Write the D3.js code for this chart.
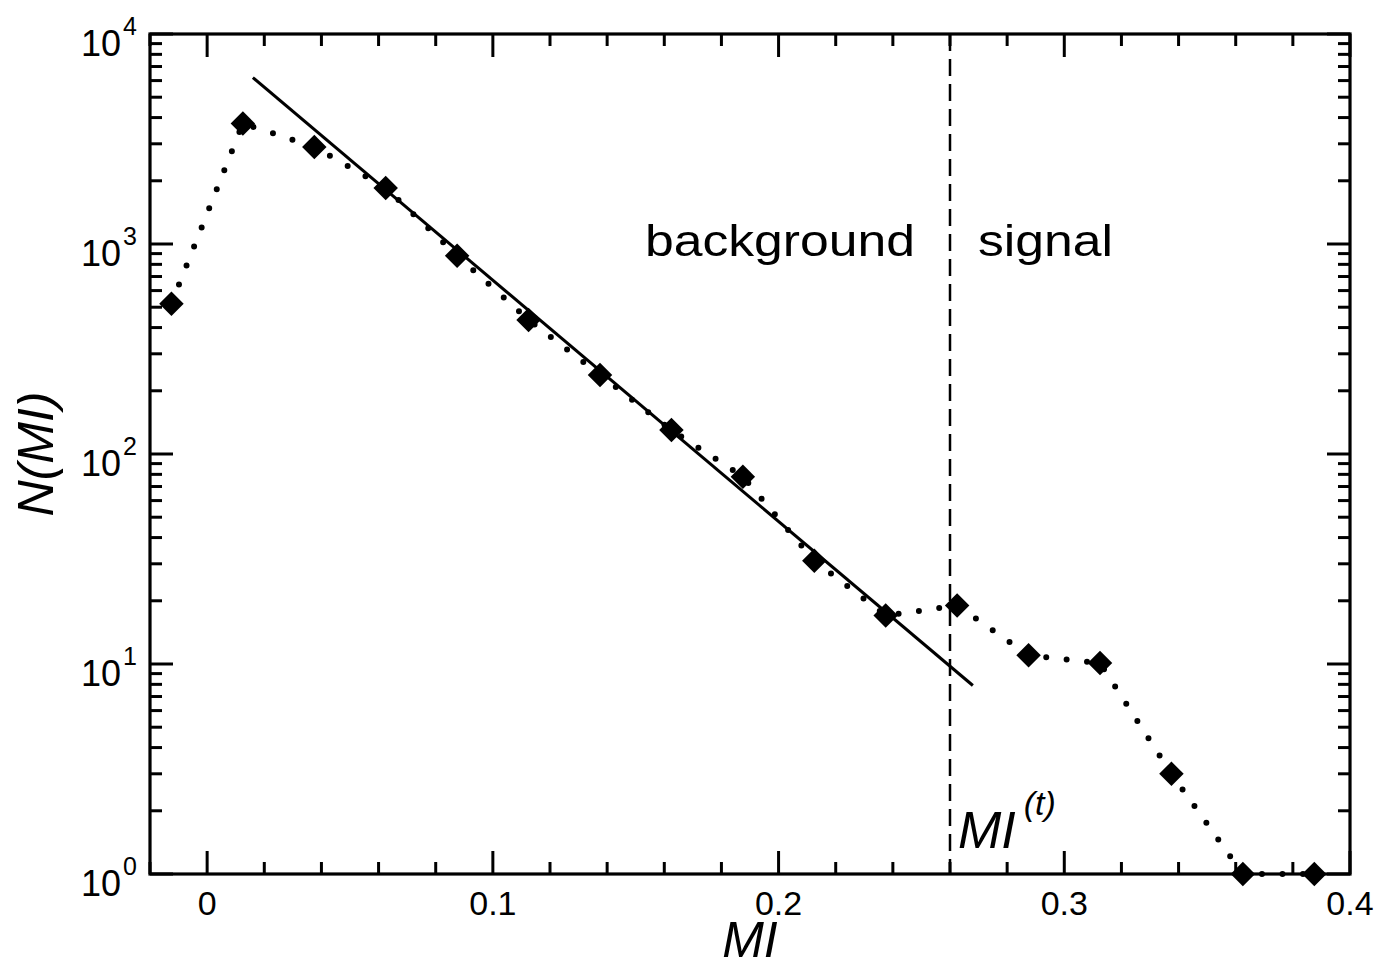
<!DOCTYPE html>
<html>
<head>
<meta charset="utf-8">
<script src="https://cdn.jsdelivr.net/npm/d3@7"></script>
<style>
  body { margin: 0; background: #fff; }
  svg { display: block; }
  text { font-family: "Liberation Sans", Arial, Helvetica, sans-serif; fill: #000; }
</style>
</head>
<body>
<svg id="chart" width="1397" height="969"></svg>
<script>
// ---- data ----
const binCenters = [-0.0125, 0.0125, 0.0375, 0.0625, 0.0875, 0.1125, 0.1375, 0.1625, 0.1875,
                    0.2125, 0.2375, 0.2625, 0.2875, 0.3125, 0.3375, 0.3625, 0.3875];
const counts     = [520, 3750, 2900, 1850, 880, 435, 238, 130, 78,
                    31, 17, 19, 11, 10.1, 3.0, 1, 1];
const fitX = [0.016, 0.268];
const fitY = [6200, 7.9];
const threshold = 0.26;
const xTickValues = [0, 0.1, 0.2, 0.3, 0.4];
const xTickLabels = ["0", "0.1", "0.2", "0.3", "0.4"];
const yTickExponents = [0, 1, 2, 3, 4];
const regionLabels = ["background", "signal"];

// ---- layout ----
const svg = d3.select("#chart");
const L = 150, R = 1350, T = 34, B = 874;
const x = d3.scaleLinear().domain([-0.02, 0.4]).range([L, R]);
const y = d3.scaleLog().domain([1, 10000]).range([B, T]);

const g = svg.append("g");

// minor/major ticks
const xMinor = d3.range(-0.02, 0.4001, 0.02).map(v => +v.toFixed(3)).filter(v => !xTickValues.some(t => Math.abs(t - v) < 1e-6));
const yMinor = [];
for (let e = 0; e < 4; e++) for (let m = 2; m <= 9; m++) yMinor.push(m * Math.pow(10, e));
const majLen = 23, minLen = 12;
const tickStyle = sel => sel.attr("stroke", "#000").attr("stroke-width", 3);

// bottom & top x ticks
[[B, -1], [T, 1]].forEach(([yy, dir]) => {
  g.selectAll(null).data(xTickValues).enter().append("line")
    .attr("x1", d => x(d)).attr("x2", d => x(d))
    .attr("y1", yy).attr("y2", yy + dir * majLen).call(tickStyle);
  g.selectAll(null).data(xMinor).enter().append("line")
    .attr("x1", d => x(d)).attr("x2", d => x(d))
    .attr("y1", yy).attr("y2", yy + dir * minLen).call(tickStyle);
});
// left & right y ticks
[[L, 1], [R, -1]].forEach(([xx, dir]) => {
  g.selectAll(null).data(yTickExponents).enter().append("line")
    .attr("y1", d => y(Math.pow(10, d))).attr("y2", d => y(Math.pow(10, d)))
    .attr("x1", xx).attr("x2", xx + dir * majLen).call(tickStyle);
  g.selectAll(null).data(yMinor).enter().append("line")
    .attr("y1", d => y(d)).attr("y2", d => y(d))
    .attr("x1", xx).attr("x2", xx + dir * minLen).call(tickStyle);
});

// frame
g.append("rect").attr("x", L).attr("y", T).attr("width", R - L).attr("height", B - T)
  .attr("fill", "none").attr("stroke", "#000").attr("stroke-width", 3.2);

// x tick labels
g.selectAll(null).data(xTickValues).enter().append("text")
  .attr("x", d => x(d)).attr("y", 915)
  .attr("text-anchor", "middle").attr("font-size", 34)
  .text((d, i) => xTickLabels[i]);

// y tick labels 10^n
yTickExponents.forEach(e => {
  const yy = y(Math.pow(10, e));
  const t = g.append("text").attr("x", 137).attr("y", yy + 22)
    .attr("text-anchor", "end").attr("font-size", 36);
  t.append("tspan").text("10");
  t.append("tspan").attr("font-size", 25).attr("dy", -21).attr("dx", 2).text(String(e));
});

// threshold dashed line
g.append("line")
  .attr("x1", x(threshold)).attr("x2", x(threshold))
  .attr("y1", T).attr("y2", B)
  .attr("stroke", "#000").attr("stroke-width", 2.5).attr("stroke-dasharray", "17 8");

// fit line
const line = d3.line().x(d => x(d[0])).y(d => y(d[1]));
g.append("path").datum(fitX.map((v, i) => [v, fitY[i]]))
  .attr("d", line).attr("fill", "none").attr("stroke", "#000").attr("stroke-width", 3);

// dotted data line
const pts = binCenters.map((v, i) => [v, counts[i]]);
g.append("path").datum(pts)
  .attr("d", line).attr("fill", "none").attr("stroke", "#000")
  .attr("stroke-width", 6).attr("stroke-linecap", "round").attr("stroke-dasharray", "0 20.5");

// diamonds
const sym = d3.symbol().type(d3.symbolSquare).size(300);
g.selectAll(null).data(pts).enter().append("path")
  .attr("d", sym)
  .attr("transform", d => `translate(${x(d[0])},${y(d[1])}) rotate(45)`)
  .attr("fill", "#000");

// region labels
g.append("text").attr("x", 645).attr("y", 256).attr("font-size", 45)
  .attr("textLength", 270).attr("lengthAdjust", "spacingAndGlyphs").text(regionLabels[0]);
g.append("text").attr("x", 978).attr("y", 256).attr("font-size", 45)
  .attr("textLength", 135).attr("lengthAdjust", "spacingAndGlyphs").text(regionLabels[1]);

// MI^(t) label
const mt = g.append("text").attr("x", 958).attr("y", 848).attr("font-size", 52).attr("font-style", "italic");
mt.append("tspan").text("MI");
mt.append("tspan").attr("font-size", 34).attr("dy", -33).attr("dx", 8).text("(t)");

// axis titles
g.append("text").attr("x", (L + R) / 2).attr("y", 957).attr("text-anchor", "middle")
  .attr("font-size", 50).attr("font-style", "italic").text("MI");
g.append("text").attr("transform", `translate(53,${(T + B) / 2}) rotate(-90)`)
  .attr("text-anchor", "middle").attr("font-size", 50).attr("font-style", "italic").text("N(MI)");
</script>
</body>
</html>
